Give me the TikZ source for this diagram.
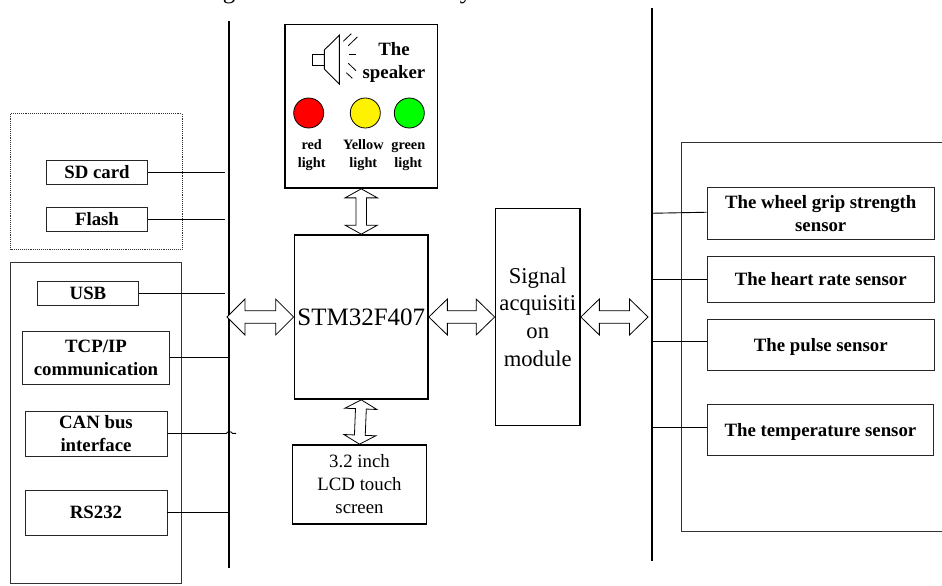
\documentclass[tikz,border=0pt]{standalone}
\usepackage{fontspec}
\setmainfont{Liberation Serif}
\usetikzlibrary{positioning}
\usetikzlibrary{calc}

\tikzset{
  thinbox/.style={draw=black!85,line width=0.9pt,inner sep=0pt,align=center,font=\fontsize{18.8}{23}\selectfont\bfseries},
  thickbox/.style={draw=black,line width=1.7pt,inner sep=0pt,align=center,font=\fontsize{18.8}{23}\selectfont},
  outerbox/.style={draw=black!80,line width=0.9pt,inner sep=0pt},
  bus/.style={draw=black,line width=1.7pt},
  wire/.style={draw=black,line width=0.9pt},
  lamp/.style={circle,draw=black,line width=0.8pt,inner sep=0pt,minimum size=30pt},
  lamplabel/.style={inner sep=0pt,align=center,font=\fontsize{14.3}{17.5}\selectfont\bfseries},
  blockarrow/.style n args={3}{draw=black,fill=white,line width=0.8pt,
    to path={
      -- ($(\tikztostart)!#1!(\tikztotarget)!#2!90:(\tikztotarget)$)
      -- ($(\tikztostart)!#1!(\tikztotarget)!#3!90:(\tikztotarget)$)
      -- ($(\tikztotarget)!#1!(\tikztostart)!#3!-90:(\tikztostart)$)
      -- ($(\tikztotarget)!#1!(\tikztostart)!#2!-90:(\tikztostart)$)
      -- (\tikztotarget)
      -- ($(\tikztotarget)!#1!(\tikztostart)!#2!90:(\tikztostart)$)
      -- ($(\tikztotarget)!#1!(\tikztostart)!#3!90:(\tikztostart)$)
      -- ($(\tikztostart)!#1!(\tikztotarget)!#3!-90:(\tikztotarget)$)
      -- ($(\tikztostart)!#1!(\tikztotarget)!#2!-90:(\tikztotarget)$)
      -- cycle}},
}

\begin{document}
\begin{tikzpicture}[x=1pt,y=-1pt]
  \useasboundingbox (0,0) rectangle (942,586);

  \node[inner sep=0pt,anchor=base,font=\fontsize{25}{25}\selectfont] (headG) at (229,-1.5) {g};
  \node[inner sep=0pt,anchor=base,font=\fontsize{25}{25}\selectfont] (headY) at (466,-1.5) {y};

  \coordinate (busLtop) at (229.3,20.7);
  \coordinate (busLbot) at (229.3,568.3);
  \coordinate (busRtop) at (651.7,8);
  \coordinate (busRbot) at (651.7,560.7);
  \coordinate (stopL)   at (225,0);
  \coordinate (portL)   at (227,317);
  \coordinate (portR)   at (648,317);
  \coordinate (canEnd)  at (236,433.3);

  \node[outerbox,densely dotted,minimum width=171.5pt,minimum height=135.5pt] (storage) at (96.25,181.25) {};
  \node[outerbox,minimum width=171pt,minimum height=321pt] (comm) at (96,422.5) {};
  \draw[outerbox] (942,142) -- (681.7,142) -- (681.7,531.7) -- (942,531.7);

  \node[thinbox,minimum width=101pt,minimum height=23.5pt] (sd)    at (97,172.25)  {SD card};
  \node[thinbox,minimum width=101pt,minimum height=24pt]   (flash) at (97,219)     {Flash};
  \node[thinbox,minimum width=101pt,minimum height=24.5pt] (usb)   at (88,293.25)  {USB};
  \node[thinbox,minimum width=147pt,minimum height=53pt]   (tcp)   at (96,357.5)   {TCP/IP\\communication};
  \node[thinbox,minimum width=142pt,minimum height=45pt]   (can)   at (96,433.5)   {CAN bus\\interface};
  \node[thinbox,minimum width=142pt,minimum height=45pt]   (rs)    at (96,512.5)   {RS232};

  \node[thickbox,minimum width=152.5pt,minimum height=163.5pt] (alarm) at (361.25,106.25) {};
  \node[thickbox,font=\fontsize{25}{30}\selectfont,minimum width=133.5pt,minimum height=164pt] (stm) at (361.25,317) {STM32F407};
  \node[thickbox,font=\fontsize{22.6}{27.7}\selectfont,minimum width=84.5pt,minimum height=217pt] (signal) at (537.75,317) {Signal\\acquisiti\\on\\module};
  \node[thickbox,minimum width=134pt,minimum height=79pt] (lcd) at (359.5,484.5) {3.2 inch\\LCD touch\\screen};

  \node[thinbox,minimum width=227.5pt,minimum height=52.5pt] (wheel) at (820.75,213.25) {The wheel grip strength\\sensor};
  \node[thinbox,minimum width=227.5pt,minimum height=46.7pt] (heart) at (820.75,279.3)  {The heart rate sensor};
  \node[thinbox,text depth=0pt,minimum width=227.5pt,minimum height=51pt]   (pulse) at (820.75,344.5)  {The pulse sensor};
  \node[thinbox,text depth=0pt,minimum width=226.7pt,minimum height=50.6pt] (temp)  at (820.4,430)     {The temperature sensor};

  \node[inner sep=0pt,align=center,font=\fontsize{18.8}{23}\selectfont\bfseries] (speakerText) at (394,62.5) {The\\speaker};

  \draw[line width=0.9pt] (312.3,54.3) rectangle (324.3,65.3);
  \draw[line width=0.9pt] (324.3,50) -- (339.3,35.3) -- (339.3,84) -- (324.3,69) -- cycle;
  \draw[line width=0.8pt] (343.3,41.3) -- (351.3,33.7);
  \draw[line width=0.8pt] (348.3,45.7) -- (357.3,37);
  \draw[line width=0.8pt] (349.3,54.7) -- (355.7,54.7);
  \draw[line width=0.8pt] (348.3,63.3) -- (356,70.7);
  \draw[line width=0.8pt] (346.3,72.7) -- (352.3,78.3);

  \node[lamp,fill=red]    (redLamp)    at (308.7,113) {};
  \node[lamp,fill=yellow] (yellowLamp) at (365.3,113) {};
  \node[lamp,fill=green]  (greenLamp)  at (409.3,113) {};
  \node[lamplabel] (redText)    at (311.7,155.25) {red\\light};
  \node[lamplabel] (yellowText) at (363.3,155.25) {Yellow\\light};
  \node[lamplabel] (greenText)  at (408.3,156.5)  {green\\light};

  \path[bus] (busLtop) -- (busLbot);
  \path[bus] (busRtop) -- (busRbot);

  \path[wire]
      (sd.east) edge (sd.east -| stopL)
      (flash.east) edge (flash.east -| stopL)
      (usb.east) edge (usb.east -| stopL)
      (tcp.east) edge (tcp.east -| busLtop)
      (rs.east) edge (rs.east -| busLtop)
      (wheel.west -| busRtop) edge ([yshift=1pt]wheel.west)
      (heart.west -| busRtop) edge (heart.west)
      ([yshift=3.2pt]pulse.west -| busRtop) edge ([yshift=3.2pt]pulse.west)
      ([yshift=2.7pt]temp.west -| busRtop) edge ([yshift=2.7pt]temp.west);
  \draw[wire] (can.east) -- ++(59,0) to[bend left=85] ++(6,0) -- (canEnd);

  \draw[blockarrow={18pt}{18pt}{6.2pt}] (portL) to (stm.west);
  \draw[blockarrow={18.5pt}{18pt}{6.2pt}] (stm.east) to (signal.west);
  \draw[blockarrow={18.5pt}{18pt}{6.2pt}] (signal.east) to (portR);
  \draw[blockarrow={9pt}{16.2pt}{5.3pt}] (alarm.south) to (stm.north);
  \draw[blockarrow={9pt}{16pt}{5.4pt}] (stm.south) to (lcd.north);
\end{tikzpicture}
\end{document}
